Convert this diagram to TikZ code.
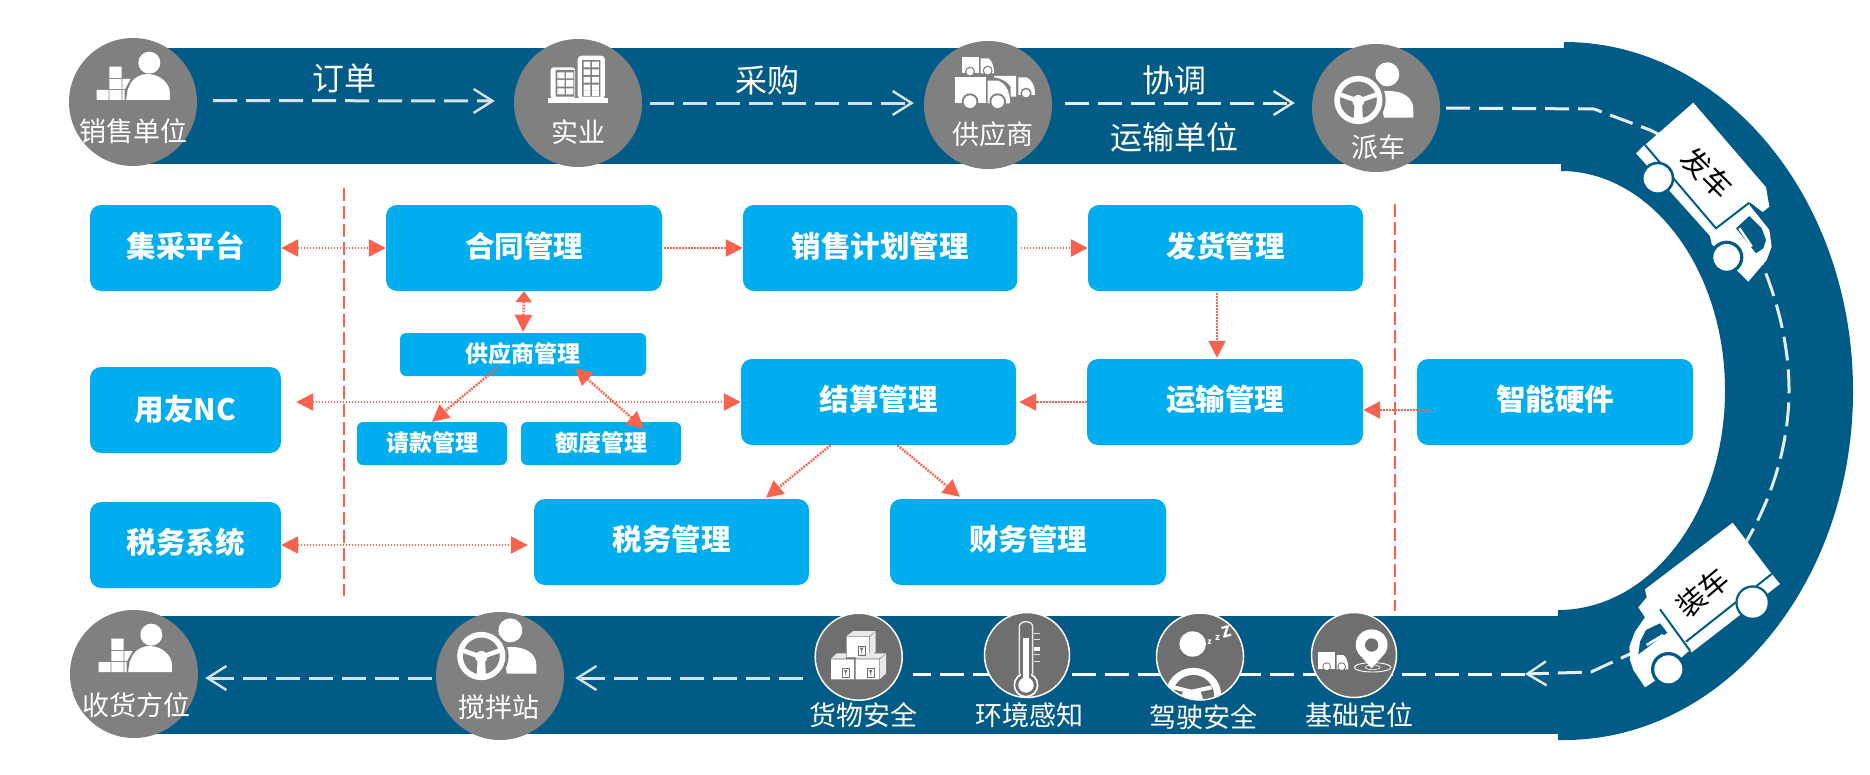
\documentclass[tikz,border=0pt]{standalone}
\usepackage{fontspec}
\setmainfont{Noto Sans CJK SC}
\usetikzlibrary{arrows.meta,calc}
\definecolor{band}{HTML}{005C86}
\definecolor{boxblue}{HTML}{00AEEF}
\definecolor{coral}{HTML}{F9624E}
\definecolor{grayA}{HTML}{808080}
\definecolor{grayB}{HTML}{6F6F6F}
\definecolor{dashA}{HTML}{D5E2EA}
\tikzset{
  fsz/.style={font=\fontsize{#1}{#1}\selectfont},
  fszb/.style={font=\fontsize{#1}{#1}\selectfont\bfseries},
  bigbox/.style={fill=boxblue,rounded corners=11pt,inner sep=0pt,text=white,fszb=29.5,text height=25pt},
  smallbox/.style={fill=boxblue,rounded corners=6pt,inner sep=0pt,text=white,fszb=23,text height=20pt,text depth=5pt},
  gcircleA/.style={circle,fill=grayA,inner sep=0pt,minimum size=128pt},
  gcircleB/.style={circle,fill=grayB,draw=white,line width=1.5pt,inner sep=0pt,minimum size=87pt},
  lab/.style={text=white,inner sep=0pt,fsz=27},
  roadlab/.style={text=white,inner sep=0pt,fsz=32},
  trucklab/.style={text=black,inner sep=0pt,fsz=29},
  redlink/.style={draw=coral,line width=2.4pt,dash pattern=on 1.8pt off 1.2pt},
  redtip/.style={-{Triangle[length=17pt,width=17pt,fill=coral,color=coral]}},
  redboth/.style={{Triangle[length=17pt,width=17pt,fill=coral,color=coral]}-{Triangle[length=17pt,width=17pt,fill=coral,color=coral]}},
  sep/.style={draw=coral,line width=1.6pt,dash pattern=on 13pt off 5pt},
  roaddash/.style={line width=3pt,dash pattern=on 24pt off 9pt},
  barb/.style={-{Straight Barb[length=19pt,width=24pt,line width=2.4pt]}},
  iconscope/.style={shift={#1},x=0.3333pt,y=-0.3333pt},
}
\newcommand{\iconseller}{%
  \fill[white] (268,98) circle[radius=33];
  \fill[white] (195,210) .. controls (198,165) and (225,132) .. (262,132) .. controls (300,132) and (330,160) .. (330,190) -- (330,210) -- cycle;
  \fill[white] (148,110) rectangle (185,144) (148,147) rectangle (185,177) (148,180) rectangle (185,210) (110,180) rectangle (146,210) (187,147) rectangle (212,177) (187,180) rectangle (198,210);
  \fill[grayA] (212,147) -- (218,147) -- (203,178) -- (198,210) -- (194,210) -- (194,180) -- cycle;
}
\newcommand{\iconwheel}{%
  \fill[white] (232,88) circle[radius=36];
  \fill[white] (222,218) -- (310,218) -- (310,190) .. controls (308,158) and (280,138) .. (235,138) -- (205,138) -- cycle;
  \fill[grayA] (145,165) circle[radius=82];
  \draw[white,line width=5.6pt] (145,165) circle[radius=64];
  \draw[white,line width=4.6pt] (88,148) -- (145,168) -- (202,148);
  \fill[white] (145,168) circle[radius=18];
  \fill[white] (134,172) -- (156,172) -- (159,230) -- (131,230) -- cycle;
  \fill[grayA,rotate around={50:(178,190)}] (178,190) ellipse [x radius=15,y radius=6];
}
\begin{document}
\begin{tikzpicture}[x=1pt,y=-1pt]
\useasboundingbox (0,0) rectangle (1870,774);
% bands
\fill[band] (117,48) rectangle (1564,164);
\fill[band] (117,616) rectangle (1558,734);
\fill[band] (1564,42) .. controls (1723.6,42) and (1853,198.3) .. (1853,391)
  .. controls (1853,583.7) and (1723.6,740) .. (1564,740) -- (1558,740) -- (1558,610)
  .. controls (1651,610) and (1725,511.7) .. (1725,390.5)
  .. controls (1725,269.3) and (1651,171) .. (1561,171) -- cycle;
% circles
\node[gcircleA] (xiaoshou) at (133,102) {};
\node[gcircleA] (shiye) at (578,103) {};
\node[gcircleA] (gongying) at (988,105) {};
\node[gcircleA] (paiche) at (1376,108) {};
\node[gcircleA] (shouhuo) at (134,674) {};
\node[gcircleA] (jiaoban) at (500,676) {};
% road lines
\coordinate (r1) at (1594,109);
\coordinate (r2) at (1650,130);
\coordinate (r3) at (1789,390);
\coordinate (r4) at (1630,654);
\coordinate (r5) at (1591,672);
\coordinate (r6) at (1525,674);
\coordinate (r7) at (913,674);
\coordinate (b1) at (803,678);
\draw[roaddash,draw=white!90!band,barb,shorten <=6pt] (paiche.east) -- (r1) -- (r2)
  .. controls (1725,165) and (1789,285) .. (r3)
  .. controls (1789,500) and (1720,610) .. (r4) -- (r5) -- (r6);
\draw[roaddash,draw=white] (r6) -- (r7);
\draw[roaddash,draw=dashA,barb,shorten >=11pt] (b1) -- (jiaoban.east |- b1);
\draw[roaddash,draw=dashA,barb,shorten <=4pt,shorten >=7pt] ([yshift=-2pt]jiaoban.west) -- ([yshift=-4pt]shouhuo.east);
\draw[roaddash,draw=dashA,barb,shorten <=16pt,shorten >=19pt] ([yshift=1.5pt]xiaoshou.east) -- ([yshift=2pt]shiye.west);
\draw[roaddash,draw=dashA,barb,shorten <=8pt,shorten >=10pt] (shiye.east) -- ([yshift=2pt]gongying.west);
\coordinate (t3) at (1065,103);
\draw[roaddash,draw=white!90!band,barb,shorten >=17pt] (t3) -- (paiche.west |- t3);
% lower circles
\node[gcircleB] (huowu) at (858.7,656.7) {};
\node[gcircleB,minimum size=85pt] (huanjing) at (1027,655) {};
\node[gcircleB] (jiashi) at (1200,656.5) {};
\node[gcircleB,minimum size=85pt] (dingwei) at (1354,655) {};
% truck 1
\begin{scope}[iconscope={(1610,90)}]
  \fill[white] (250,38) -- (468,292) -- (478,350) -- (458,366) -- (420,337) -- (418,345) -- (478,420) -- (485,470) -- (470,510) -- (415,575) -- (385,545) -- (305,462) -- (300,438) -- (78,190) -- (100,168) -- (105,165) -- cycle;
  \draw[band,line width=2pt] (105,165) -- (318,415) -- (418,338);
  \fill[band] (378,415) -- (418,378) -- (455,415) -- (468,450) -- (460,475) -- (438,490) -- cycle;
  \draw[white,line width=2.6pt] (388,415) -- (425,470);
  \fill[band] (143,265) circle[radius=50] (350,502) circle[radius=50];
  \fill[white] (143,265) circle[radius=42] (350,502) circle[radius=40];
\end{scope}
\node[trucklab,rotate=-45] (fache) at (1707,172.7) {发车};
% truck 2
\begin{scope}[iconscope={(1610,510)}]
  \fill[white] (368,38) -- (485,192) -- (510,222) -- (245,427) -- (150,300) -- (105,322) -- (85,292) -- (110,262) -- (105,238) -- cycle;
  \fill[white] (150,298) -- (240,420) -- (135,512) -- (105,532) -- (70,480) -- (60,450) -- (58,410) -- (75,365) -- (105,322) -- cycle;
  \draw[band,line width=2pt] (485,192) -- (228,395) (150,298) -- (240,422);
  \fill[band] (150,340) -- (172,368) -- (85,433) -- (90,395) -- (108,360) -- cycle;
  \draw[white,line width=2.6pt] (110,405) -- (160,375);
  \fill[band] (428,278) circle[radius=52] (175,478) circle[radius=52];
  \fill[white] (428,278) circle[radius=45] (175,478) circle[radius=42];
\end{scope}
\node[trucklab,rotate=40] (zhuangche) at (1702.7,592.7) {装车};
% seller icons
\begin{scope}[iconscope={(60,30)}]\iconseller\end{scope}
\begin{scope}[iconscope={(62,602)}]\iconseller\end{scope}
% wheel icons
\begin{scope}[iconscope={(1310,45)}]\iconwheel\end{scope}
\begin{scope}[iconscope={(433,601)}]\iconwheel\end{scope}
% building
\begin{scope}[iconscope={(510,35)}]
  \fill[white] (113,190) rectangle (293,205);
  \fill[white,rounded corners=3pt] (122,192) -- (122,97) -- (195,97) -- (195,192) -- cycle;
  \fill[white,rounded corners=4pt] (203,192) -- (203,62) -- (285,62) -- (285,192) -- cycle;
  \fill[grayA] (137,105) rectangle (193,185) (216,75) rectangle (271,185);
  \fill[white] (142,112) rectangle (164,130) (168,112) rectangle (190,130)
    (142,135) rectangle (164,155) (168,135) rectangle (190,155)
    (142,160) rectangle (164,178) (168,160) rectangle (190,178);
  \foreach \yy in {80,103,126,149,166}{
    \fill[white] (221,\yy) rectangle (241,\yy+17) (246,\yy) rectangle (267,\yy+17);}
\end{scope}
% supplier trucks
\begin{scope}[iconscope={(920,40)}]
  \fill[white] (125,52) rectangle (178,100);
  \fill[white] (182,55) -- (205,55) .. controls (215,62) and (222,75) .. (222,100) -- (182,100) -- cycle;
  \fill[grayA] (150,95) circle[radius=15] (203,92) circle[radius=15];
  \fill[white] (150,95) circle[radius=11] (203,92) circle[radius=11];
  \fill[white] (222,108) -- (288,108) -- (288,170) -- (272,170) -- (272,140) .. controls (262,125) and (245,115) .. (222,112) -- cycle;
  \fill[white] (295,112) -- (320,112) .. controls (335,120) and (345,135) .. (345,165) -- (295,165) -- cycle;
  \fill[grayA] (318,160) circle[radius=17];
  \fill[white] (318,160) circle[radius=12];
  \fill[white] (105,112) rectangle (197,190);
  \fill[white] (203,122) -- (235,122) .. controls (255,130) and (270,150) .. (270,190) -- (203,190) -- cycle;
  \fill[grayA] (150,185) circle[radius=25] (233,185) circle[radius=25];
  \fill[white] (150,185) circle[radius=19] (233,185) circle[radius=19];
\end{scope}
% goods boxes
\begin{scope}[iconscope={(810,610)}]
  \fill[white] (110,80) rectangle (178,142) (63,148) rectangle (132,208) (137,148) rectangle (207,208);
  \fill[white!85!grayB] (110,78) -- (130,63) -- (197,63) -- (178,78) -- cycle (180,80) -- (197,65) -- (197,125) -- (180,142) -- cycle
    (63,146) -- (80,130) -- (108,130) -- (108,146) -- cycle (137,146) -- (155,130) -- (228,130) -- (207,146) -- cycle (209,148) -- (228,132) -- (228,190) -- (209,208) -- cycle;
  \foreach \px/\py in {155/125,107/192,182/192}{
    \draw[grayB,line width=0.6pt] (\px-10,\py-16) rectangle (\px+10,\py+10);
    \fill[grayB] (\px-5,\py-12) -- (\px+5,\py-12) -- (\px+1,\py-2) -- (\px+1,\py+5) -- (\px-1,\py+5) -- (\px-1,\py-2) -- cycle;}
\end{scope}
% thermometer
\begin{scope}[iconscope={(810,610)}]
  \draw[white!85!grayB,line width=1.4pt] (628,193) -- (628,50) .. controls (628,30) and (668,30) .. (668,50) -- (668,193);
  \draw[white,line width=1.6pt] (648,225) circle[radius=35];
  \fill[grayB] (632,185) rectangle (664,200);
  \fill[white] (640,85) rectangle (656,210);
  \fill[white] (648,225) circle[radius=23];
  \foreach \yy in {70,88,133,152}{\fill[white!80!grayB] (672,\yy) rectangle (690,\yy+3);}
  \fill[white] (672,110) rectangle (690,122);
\end{scope}
% driver
\begin{scope}[iconscope={(1150,610)}]
  \fill[white] (128,102) ellipse [x radius=40,y radius=38];
  \begin{scope}
    \clip (150,140) circle[radius=128];
    \draw[white,line width=7pt] (130,257) circle[radius=73];
    \draw[white,line width=4pt] (70,232) -- (125,245) -- (185,232);
    \fill[white] (100,240) -- (150,240) -- (160,270) -- (90,270) -- cycle;
  \end{scope}
\end{scope}
\node[text=white,inner sep=0pt,fszb=8] (z1) at (1209.5,642) {z};
\node[text=white,inner sep=0pt,fszb=9] (z2) at (1217.5,638) {z};
\node[text=white,inner sep=0pt,fszb=15,rotate=15] (z3) at (1226.5,632) {Z};
% location
\begin{scope}[iconscope={(1150,610)}]
  \draw[white,line width=0.9pt] (668,172) ellipse [x radius=55,y radius=14];
  \draw[white,line width=0.6pt] (668,172) ellipse [x radius=22,y radius=7];
  \fill[white] (665,175) -- (625,130) .. controls (605,100) and (625,58) .. (665,58) .. controls (705,58) and (725,100) .. (705,130) -- cycle;
  \fill[grayB] (665,105) circle[radius=20];
  \fill[white] (505,127) rectangle (555,178);
  \fill[white] (560,135) -- (580,135) .. controls (590,142) and (595,155) .. (595,178) -- (560,178) -- cycle;
  \fill[grayB] (530,170) circle[radius=13] (575,170) circle[radius=13];
  \fill[white] (530,170) circle[radius=10] (575,170) circle[radius=10];
\end{scope}
% labels
\node[lab] (l1) at (133.5,131) {销售单位};
\node[lab] (l2) at (578,132) {实业};
\node[lab] (l3) at (993,134) {供应商};
\node[lab] (l4) at (1378,147) {派车};
\node[lab] (l5) at (136,705) {收货方位};
\node[lab] (l6) at (498.5,707.5) {搅拌站};
\node[lab] (l7) at (863.5,715) {货物安全};
\node[lab] (l8) at (1029,715) {环境感知};
\node[lab] (l9) at (1203,717) {驾驶安全};
\node[lab] (l10) at (1359,715) {基础定位};
\node[roadlab] (r1l) at (344,78) {订单};
\node[roadlab] (r2l) at (767,80.5) {采购};
\node[roadlab] (r3l) at (1174,80.5) {协调};
\node[roadlab] (r4l) at (1174,137) {运输单位};
% boxes
\node[bigbox,text depth=5.5pt,minimum width=191pt,minimum height=86pt] (jicai) at (185.5,248) {集采平台};
\node[bigbox,text depth=5.5pt,minimum width=276pt,minimum height=86pt] (hetong) at (524,248) {合同管理};
\node[bigbox,text depth=5.5pt,minimum width=274.5pt,minimum height=86pt] (jihua) at (880.2,248) {销售计划管理};
\node[bigbox,text depth=5.5pt,minimum width=275pt,minimum height=86pt] (fahuo) at (1225.5,248) {发货管理};
\node[smallbox,minimum width=246pt,minimum height=43pt] (gys) at (523,354.5) {供应商管理};
\node[bigbox,text depth=4pt,minimum width=191pt,minimum height=86pt] (yongyou) at (185.5,410) {用友NC};
\node[bigbox,text depth=7.5pt,minimum width=275pt,minimum height=86pt] (jiesuan) at (878.5,402) {结算管理};
\node[bigbox,text depth=7.5pt,minimum width=276pt,minimum height=86pt] (yunshu) at (1225,402) {运输管理};
\node[bigbox,text depth=7.5pt,minimum width=276pt,minimum height=86pt] (zhineng) at (1555,402) {智能硬件};
\node[smallbox,minimum width=150pt,minimum height=43pt] (qingkuan) at (432,443.5) {请款管理};
\node[smallbox,minimum width=160pt,minimum height=43pt] (edu) at (601,443.5) {额度管理};
\node[bigbox,text depth=9pt,minimum width=191pt,minimum height=86pt] (shuiwuxt) at (185.5,545) {税务系统};
\node[bigbox,text depth=9pt,minimum width=275pt,minimum height=86pt] (shuiwu) at (671.5,542) {税务管理};
\node[bigbox,text depth=9pt,minimum width=276pt,minimum height=86pt] (caiwu) at (1028,542) {财务管理};
% separators
\coordinate (s1a) at (344,188);
\coordinate (s1b) at (344,596);
\coordinate (s2a) at (1395,204);
\coordinate (s2b) at (1395,611);
\draw[sep] (s1a) -- (s1b);
\draw[sep] (s2a) -- (s2b);
% red connectors
\draw[redlink,redboth] (jicai.east) -- (hetong.west);
\draw[redlink,redtip,shorten <=2pt] (hetong.east) -- (jihua.west);
\draw[redlink,redtip,shorten <=3pt] (jihua.east) -- (fahuo.west);
\draw[redlink,redtip,shorten <=2pt,shorten >=1pt] ([xshift=-8.5pt]fahuo.south) -- ([xshift=-8pt]yunshu.north);
\draw[redlink,{Triangle[length=11pt,width=16pt,fill=coral,color=coral]}-{Triangle[length=17pt,width=17pt,fill=coral,color=coral]},shorten >=1pt] (hetong.south) -- (gys.north);
\draw[redlink,redtip] ($(gys.south)+(-25,-9)$) -- (qingkuan.north);
\draw[redlink,redboth] ($(gys.south)+(52,-8)$) -- ($(edu.north)+(43,7)$);
\draw[redlink,redboth,shorten <=15pt] (yongyou.east |- jiesuan.west) -- (jiesuan.west);
\draw[redlink,redtip,shorten >=3pt] (yunshu.west) -- (jiesuan.east);
\draw[redlink,redtip] ([yshift=-8pt,xshift=13pt]zhineng.west) -- ([yshift=-8pt]yunshu.east);
\draw[redlink,redtip] ($(jiesuan.south)+(-48,0)$) -- ($(shuiwu.north)+(94.5,-1)$);
\draw[redlink,redtip] ($(jiesuan.south)+(19,0)$) -- ($(caiwu.north)+(-68,-2)$);
\draw[redlink,redboth,shorten >=6pt] (shuiwuxt.east) -- (shuiwu.west |- shuiwuxt.east);
\end{tikzpicture}
\end{document}
